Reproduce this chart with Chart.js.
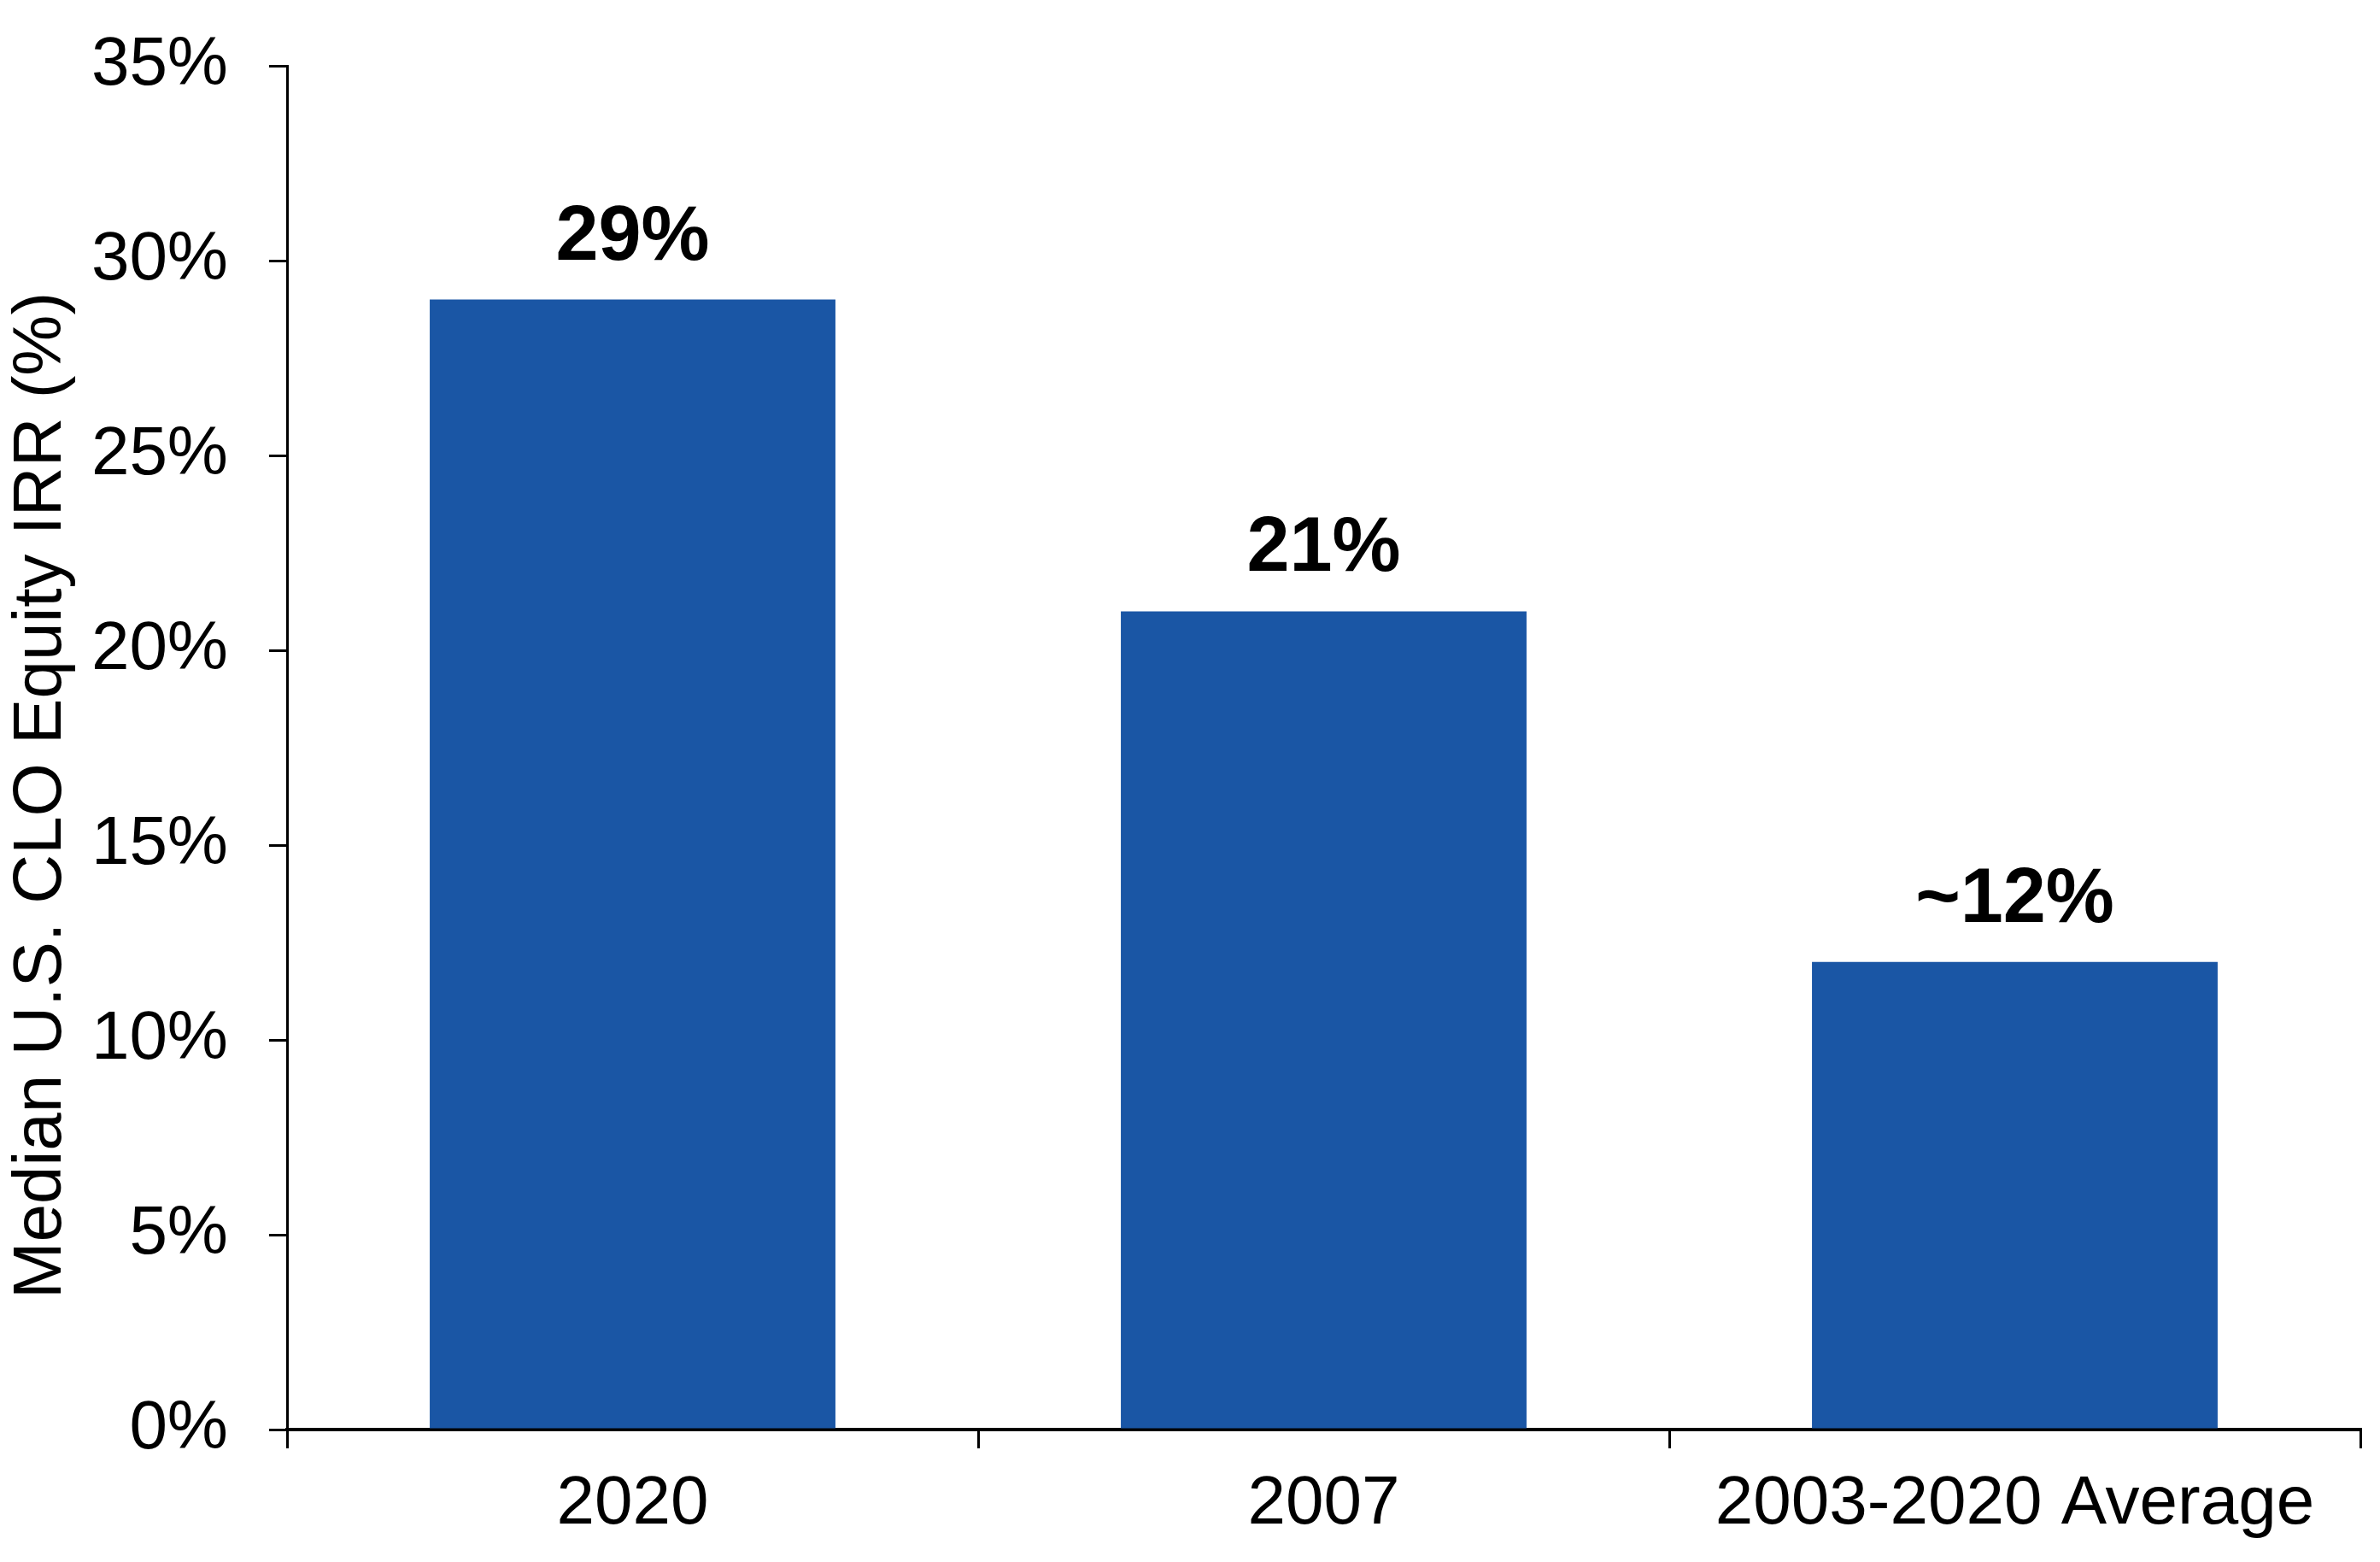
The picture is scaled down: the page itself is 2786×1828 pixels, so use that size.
<!DOCTYPE html>
<html>
<head>
<meta charset="utf-8">
<script src="https://cdn.jsdelivr.net/npm/chart.js@4/dist/chart.umd.min.js"></script>
<style>
  html, body { margin: 0; padding: 0; background: #fff; }
  #wrap { width: 2786px; height: 1828px; }
</style>
</head>
<body>
<div id="wrap"><canvas id="irrChart"></canvas></div>
<script>
const categories = ['2020', '2007', '2003-2020 Average'];
const irrValues = [29, 21, 12];
const valueLabels = ['29%', '21%', '~12%'];
const yTicks = [0, 5, 10, 15, 20, 25, 30, 35];
const yTitle = 'Median U.S. CLO Equity IRR (%)';

const barColor = '#1a56a5';
const fontFamily = '"Liberation Sans", Arial, Helvetica, sans-serif';

// value labels above each bar
const barLabels = {
    id: 'barLabels',
    afterDatasetsDraw(chart) {
        const ctx = chart.ctx;
        const meta = chart.getDatasetMeta(0);
        ctx.save();
        ctx.font = 'bold 90px ' + fontFamily;
        ctx.fillStyle = '#000';
        ctx.textAlign = 'center';
        ctx.textBaseline = 'alphabetic';
        meta.data.forEach((bar, i) => {
            ctx.fillText(valueLabels[i], bar.x, bar.y - 47);
        });
        ctx.restore();
    }
};

// y axis title, placed a bit below the axis centre like the original
const axisTitle = {
    id: 'axisTitle',
    afterDraw(chart) {
        const ctx = chart.ctx;
        ctx.save();
        ctx.translate(49, 931);
        ctx.rotate(-Math.PI / 2);
        ctx.font = '80px ' + fontFamily;
        ctx.fillStyle = '#000';
        ctx.textAlign = 'center';
        ctx.textBaseline = 'middle';
        ctx.fillText(yTitle, 0, 0);
        ctx.restore();
    }
};

const ctx = document.getElementById('irrChart');
new Chart(ctx, {
    type: 'bar',
    data: {
        labels: categories,
        datasets: [{
            label: 'IRR',
            data: irrValues,
            backgroundColor: barColor,
            borderWidth: 0,
            categoryPercentage: 1.0,
            barPercentage: 0.587
        }]
    },
    options: {
        responsive: true,
        maintainAspectRatio: false,
        animation: false,
        devicePixelRatio: 1,
        layout: { padding: { top: 77, right: 23, left: 0, bottom: 0 } },
        plugins: {
            legend: { display: false },
            tooltip: { enabled: false }
        },
        scales: {
            x: {
                afterFit: s => { s.height = 155; },
                grid: {
                    offset: true,
                    drawOnChartArea: false,
                    drawTicks: true,
                    tickLength: 22,
                    color: '#000',
                    lineWidth: 3
                },
                border: { display: true, color: '#000', width: 4 },
                ticks: {
                    color: '#000',
                    padding: 18,
                    maxRotation: 0,
                    font: { family: fontFamily, size: 80 }
                }
            },
            y: {
                min: 0,
                max: 35,
                afterFit: s => {
                    s.width = 336;
                    s.paddingTop = 0;
                    s.paddingBottom = 0;
                },
                afterBuildTicks: s => { s.ticks = yTicks.map(v => ({ value: v })); },
                grid: {
                    drawOnChartArea: false,
                    drawTicks: true,
                    tickLength: 21,
                    color: '#000',
                    lineWidth: 3
                },
                border: { display: true, color: '#000', width: 3 },
                ticks: {
                    color: '#000',
                    padding: 48,
                    font: { family: fontFamily, size: 80 },
                    callback: v => v + '%'
                }
            }
        }
    },
    plugins: [barLabels, axisTitle]
});
</script>
</body>
</html>
